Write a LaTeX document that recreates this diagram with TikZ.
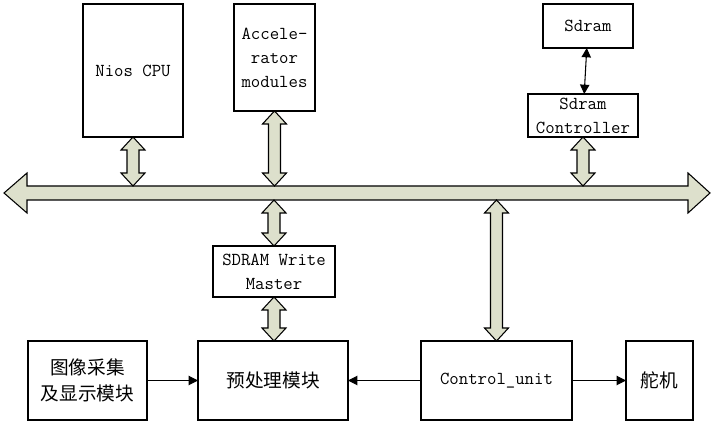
\documentclass[tikz,border=0pt]{standalone}
\usepackage{fontspec}
\usepackage{tikz}
\usetikzlibrary{arrows.meta,calc}
\newfontfamily\cjk{Noto Sans CJK SC}
\definecolor{busgreen}{RGB}{221,224,204}
\tikzset{
  box/.style={draw,line width=0.8pt,inner sep=0pt,outer sep=0pt,align=center,
    font=\ttfamily\fontsize{13.7}{18}\selectfont},
  cbox/.style={box,font=\cjk\fontsize{14}{19}\selectfont},
  wide/.style={draw,line width=0.8pt,fill=busgreen,line join=miter},
  thin/.style={line width=0.8pt,-{Triangle[length=7pt,width=7pt]}}
}
\newcommand\widearrow[2]{%
  \draw[wide] let \p1=(#1), \p2=(#2) in
  (\x1,\y1) -- (\x1+9pt,\y1-9.75pt) -- (\x1+4.5pt,\y1-9.75pt)
  -- (\x1+4.5pt,\y2+9.75pt) -- (\x1+9pt,\y2+9.75pt) -- (\x1,\y2)
  -- (\x1-9pt,\y2+9.75pt) -- (\x1-4.5pt,\y2+9.75pt)
  -- (\x1-4.5pt,\y1-9.75pt) -- (\x1-9pt,\y1-9.75pt) -- cycle;}

\begin{document}
\begin{tikzpicture}[x=0.75pt,y=0.75pt]
\useasboundingbox (0,0) rectangle (715,425);

% top row
\node[box,minimum width=75pt,minimum height=99.75pt] (nios) at (133,354.5) {Nios CPU};
\node[box,minimum width=60.75pt,minimum height=80.25pt] (acc) at (274.5,367.5) {Accele-\\rator\\modules};
\node[box,minimum width=67.5pt,minimum height=33pt] (sdram) at (588,399) {Sdram};
\node[box,minimum width=82.5pt,minimum height=32.25pt] (ctrl) at (583,309.5) {Sdram\\Controller};

% bus
\coordinate (busL) at (4,232);
\coordinate (busR) at (710,232);
\coordinate (busT) at (0,239);
\coordinate (busB) at (0,225);
\draw[wide] (busL) -- ++(23,20) -- ++(0,-13) -- ($(busR)+(-22,7)$) -- ++(0,13)
  -- (busR) -- ++(-22,-20) -- ++(0,13) -- ($(busL)+(23,-7)$) -- ++(0,-13) -- cycle;

\node[box,minimum width=91.5pt,minimum height=38.25pt] (wm) at (274,153.5) {SDRAM Write\\Master};

% bottom row
\node[cbox,minimum width=89.25pt,minimum height=59.25pt] (cap) at (87.5,44.5) {图像采集\\及显示模块};
\node[cbox,minimum width=112.5pt,minimum height=59.25pt] (pre) at (273,44.5) {预处理模块};
\node[box,minimum width=113.25pt,minimum height=59.25pt] (cu) at (496.5,44.5) {Control\_unit};
\node[cbox,minimum width=50.25pt,minimum height=59.25pt] (servo) at (659.5,44.5) {舵机};

% connectors
\widearrow{nios.south}{nios.south |- busT}
\widearrow{acc.south}{acc.south |- busT}
\widearrow{ctrl.south}{ctrl.south |- busT}
\widearrow{wm.north |- busB}{wm.north}
\widearrow{wm.south}{wm.south |- pre.north}
\widearrow{cu.north |- busB}{cu.north}
\draw[thin,{Triangle[length=7pt,width=7pt]}-{Triangle[length=7pt,width=7pt]}] (sdram) -- (ctrl);
\draw[thin] (cap) -- (pre);
\draw[thin] (cu) -- (pre);
\draw[thin] (cu) -- (servo);
\end{tikzpicture}
\end{document}
